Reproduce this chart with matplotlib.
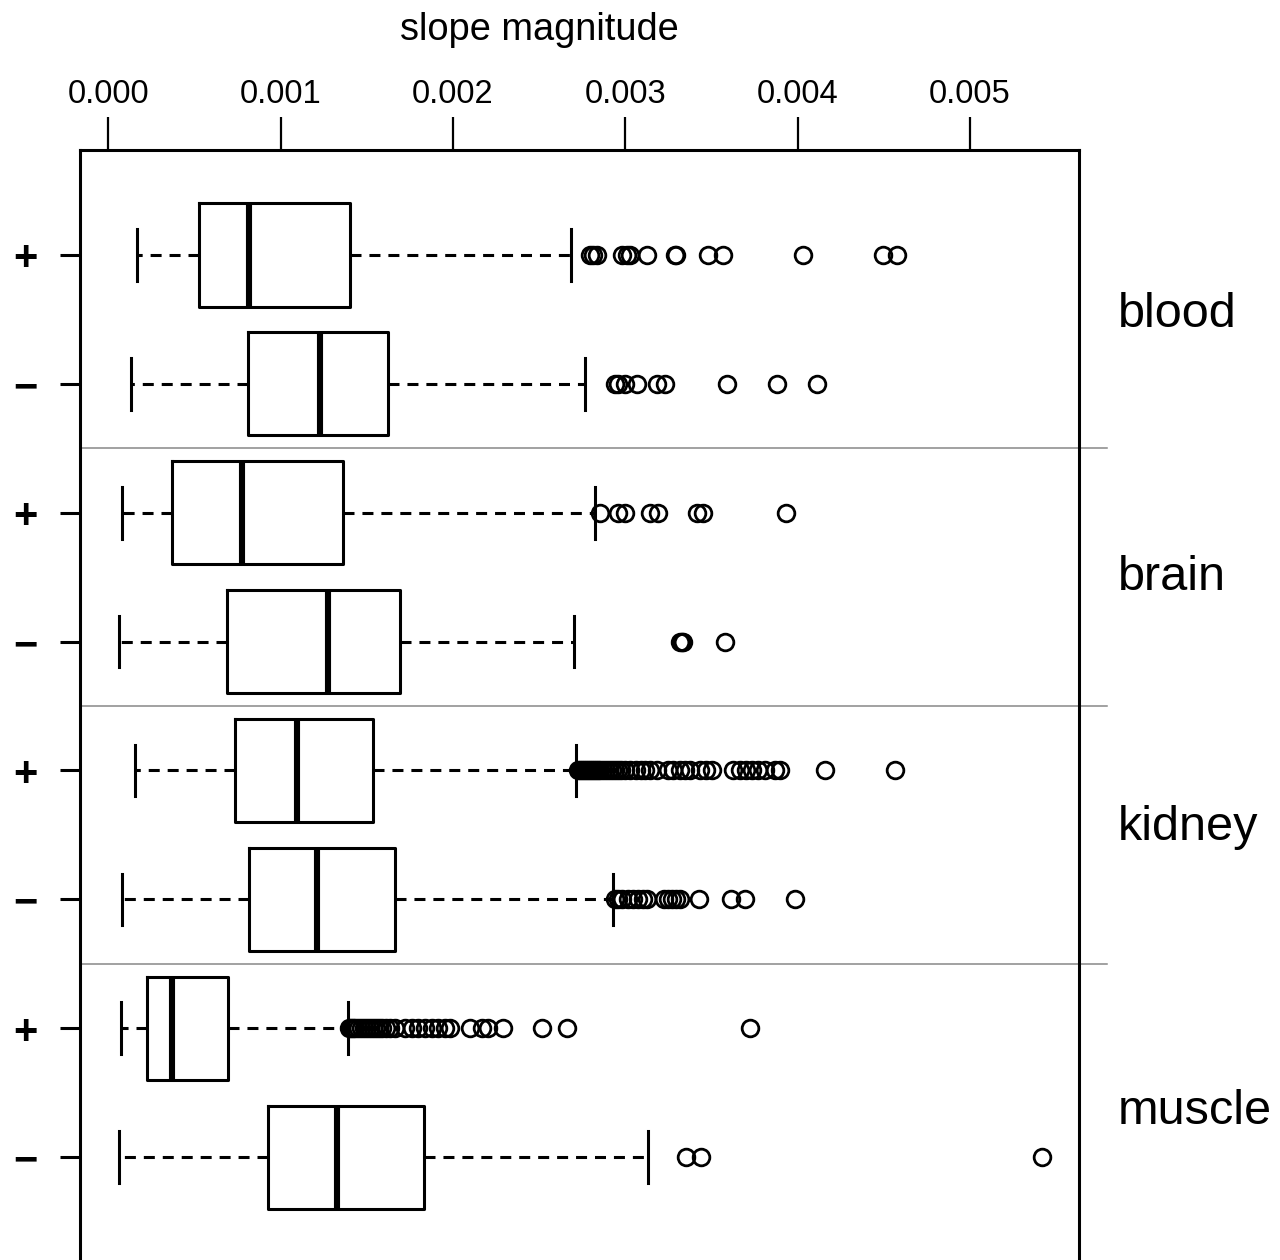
import matplotlib
matplotlib.use('Agg')
import matplotlib.pyplot as plt
from matplotlib.transforms import blended_transform_factory

tissues = ['blood', 'brain', 'kidney', 'muscle']
signs = ['+', '\u2212']
xticks = [0.000, 0.001, 0.002, 0.003, 0.004, 0.005]

# one row per tissue/sign, top to bottom
whislo = [0.000165, 0.000131, 0.000078, 0.000061, 0.000154, 0.000078, 0.000072, 0.000061]
q1 = [0.000525, 0.000810, 0.000369, 0.000688, 0.000734, 0.000815, 0.000223, 0.000926]
med = [0.000815, 0.001228, 0.000775, 0.001274, 0.001094, 0.001210, 0.000369, 0.001326]
q3 = [0.001402, 0.001623, 0.001361, 0.001692, 0.001535, 0.001663, 0.000694, 0.001831]
whishi = [0.002684, 0.002766, 0.002824, 0.002702, 0.002713, 0.002928, 0.001390, 0.003131]

fliers = [
    [0.002795, 0.002812, 0.002835, 0.002980, 0.003009, 0.003027, 0.003125, 0.003288,
     0.003294, 0.003479, 0.003567, 0.004031, 0.004495, 0.004577],
    [0.002940, 0.002957, 0.002998, 0.003067, 0.003183, 0.003230, 0.003590, 0.003880,
     0.004112],
    [0.002853, 0.002957, 0.002998, 0.003143, 0.003189, 0.003416, 0.003450, 0.003932],
    [0.003317, 0.003329, 0.003335, 0.003579],
    [0.002725, 0.002736, 0.002748, 0.002760, 0.002771, 0.002783, 0.002794, 0.002806,
     0.002818, 0.002829, 0.002841, 0.002853, 0.002870, 0.002887, 0.002905, 0.002922,
     0.002940, 0.002957, 0.002974, 0.002998, 0.003027, 0.003062, 0.003091, 0.003114,
     0.003143, 0.003183, 0.003247, 0.003276, 0.003317, 0.003346, 0.003375, 0.003433,
     0.003468, 0.003503, 0.003625, 0.003665, 0.003700, 0.003735, 0.003770, 0.003810,
     0.003868, 0.003897, 0.004158, 0.004565],
    [0.002940, 0.002957, 0.002980, 0.003015, 0.003044, 0.003073, 0.003102, 0.003126,
     0.003224, 0.003247, 0.003270, 0.003294, 0.003317, 0.003427, 0.003613, 0.003694,
     0.003985],
    [0.001396, 0.001407, 0.001419, 0.001431, 0.001448, 0.001466, 0.001483, 0.001500,
     0.001518, 0.001535, 0.001552, 0.001570, 0.001587, 0.001610, 0.001634, 0.001663,
     0.001721, 0.001762, 0.001796, 0.001837, 0.001877, 0.001912, 0.001953, 0.001982,
     0.002098, 0.002168, 0.002203, 0.002290, 0.002516, 0.002661, 0.003723],
    [0.003352, 0.003439, 0.005418],
]

stats = []
for i in range(len(med)):
    stats.append(dict(whislo=whislo[i], q1=q1[i], med=med[i], q3=q3[i],
                      whishi=whishi[i], fliers=fliers[i]))

plt.rcParams['font.family'] = ['Liberation Sans', 'DejaVu Sans']

fig = plt.figure(figsize=(12.8, 12.6), dpi=100)
ax = fig.add_axes([0.0625, -0.0016, 0.7805, 0.8825])

lw = 2.2
pos = list(range(1, len(med) + 1))
ax.bxp(stats, positions=pos, widths=0.8, capwidths=0.4, orientation='horizontal',
       manage_ticks=False,
       boxprops=dict(color='black', linewidth=lw),
       medianprops=dict(color='black', linewidth=4.4, solid_capstyle='butt'),
       whiskerprops=dict(color='black', linewidth=lw, linestyle=(0, (3.6, 2.6))),
       capprops=dict(color='black', linewidth=lw),
       flierprops=dict(marker='o', markersize=12, markerfacecolor='none',
                       markeredgecolor='black', markeredgewidth=2.0))

ax.set_xlim(-0.000165, 0.005633)
ax.set_ylim(8.814, 0.186)

# x axis on top
ax.xaxis.tick_top()
ax.set_xticks(xticks)
ax.set_xticklabels(['%.3f' % v for v in xticks])
ax.tick_params(axis='x', length=24, width=1.6, pad=5, labelsize=23.5, color='black')

ax.set_yticks(pos)
ax.set_yticklabels(signs * len(tissues))
ax.tick_params(axis='y', length=14.5, width=lw, pad=16, labelsize=30)
for lab in ax.get_yticklabels():
    lab.set_fontweight('bold')

for side in ['left', 'top', 'right', 'bottom']:
    ax.spines[side].set_linewidth(lw)
    ax.spines[side].set_color('black')

# separators between tissues, running a little past the right border
sep = blended_transform_factory(ax.transAxes, ax.transData)
for k in range(1, len(tissues)):
    y = 2 * k + 0.5
    ax.plot([0, 1.028], [y, y], color='#888888', linewidth=1.1, transform=sep,
            clip_on=False)

# tissue labels on the right
lab_tr = blended_transform_factory(fig.transFigure, ax.transData)
label_y = [1.56, 3.6, 5.54, 7.74]
for name, y in zip(tissues, label_y):
    fig.text(0.8734, y, name, transform=lab_tr, fontsize=35, va='baseline', ha='left')

# axis title above the tick labels
ttl_tr = blended_transform_factory(ax.transData, fig.transFigure)
ax.text(0.0025, 0.9765, 'slope magnitude', transform=ttl_tr, fontsize=27.4,
        ha='center', va='center')

fig.savefig('out.png', dpi=100)
